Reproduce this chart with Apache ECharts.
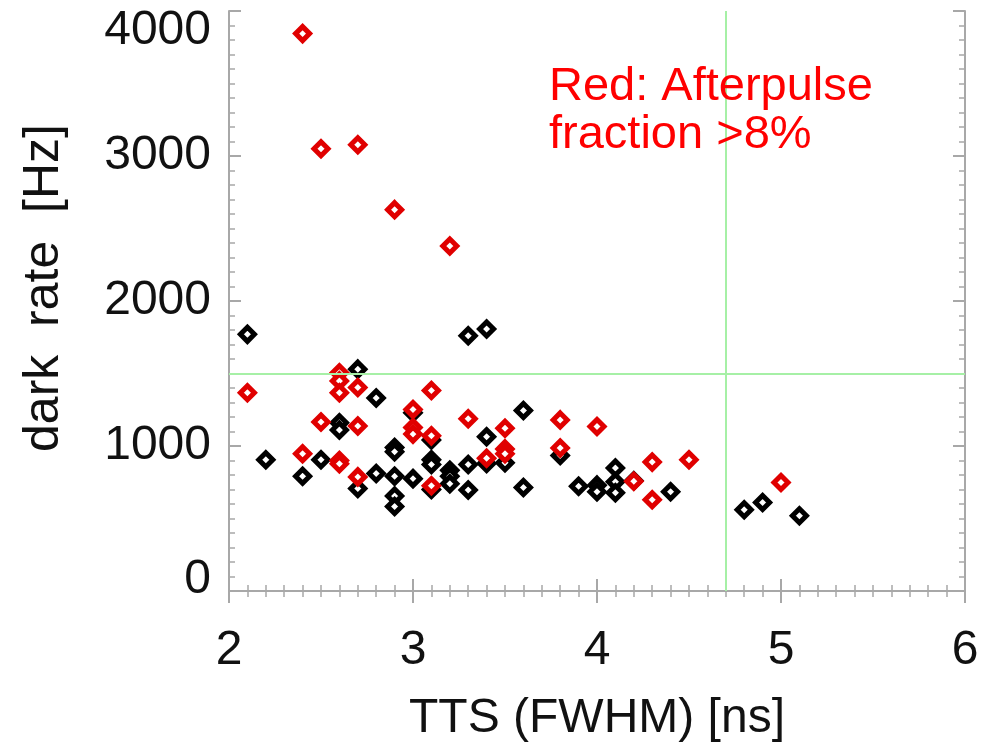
<!DOCTYPE html>
<html>
<head>
<meta charset="utf-8">
<script src="https://cdn.jsdelivr.net/npm/echarts@6/dist/echarts.min.js"></script>
<style>
  html, body { margin: 0; padding: 0; background: #fff; }
  #chart { width: 991px; height: 748px; }
</style>
</head>
<body>
<div id="chart"></div>
<script>
// TTS (FWHM) [ns] vs dark rate [Hz] for each PMT
const blackPoints = [
  [2.1, 1770], [2.2, 905], [2.4, 791], [2.5, 905], [2.6, 1160], [2.6, 1110],
  [2.7, 1530], [2.7, 707], [2.8, 1331], [2.8, 810], [2.9, 990], [2.9, 960],
  [2.9, 791], [2.9, 655], [2.9, 583], [3.0, 1230], [3.0, 775], [3.1, 905],
  [3.1, 873], [3.1, 1041], [3.1, 700], [3.2, 832], [3.2, 791], [3.2, 740],
  [3.3, 1760], [3.3, 873], [3.3, 696], [3.4, 1807], [3.4, 1064], [3.4, 880],
  [3.5, 884], [3.6, 1245], [3.6, 714], [3.8, 934], [3.9, 723], [4.0, 730],
  [4.0, 685], [4.1, 848], [4.1, 753], [4.1, 678], [4.2, 760], [4.4, 685],
  [4.8, 560], [4.9, 610], [5.1, 519]
];
// afterpulse fraction above 8%
const redPoints = [
  [2.1, 1367], [2.4, 3844], [2.4, 946], [2.5, 3050], [2.5, 1165], [2.6, 1505],
  [2.6, 1449], [2.6, 1367], [2.6, 900], [2.6, 878], [2.7, 3077], [2.7, 1403],
  [2.7, 1138], [2.7, 787], [2.9, 2630], [3.0, 1252], [3.0, 1127], [3.0, 1082],
  [3.1, 1383], [3.1, 1070], [3.1, 726], [3.2, 2379], [3.3, 1188], [3.4, 916],
  [3.5, 1122], [3.5, 980], [3.5, 946], [3.8, 1180], [3.8, 986], [4.0, 1134],
  [4.2, 757], [4.3, 889], [4.3, 629], [4.5, 905], [5.0, 748]
];
// threshold cuts
const darkRateCut = 1500;
const ttsCut = 4.7;

const xRange = [2, 6];
const yRange = [0, 4000];

const FONT = '"Liberation Sans", Arial, sans-serif';
const frameColor = '#a8a8a8';

const axisLineStyle = { show: true, lineStyle: { color: frameColor, width: 2 } };
const majorTick = { show: true, inside: true, length: 12, lineStyle: { color: frameColor, width: 2 } };
const minorTick = { show: true, splitNumber: 10, length: 6, lineStyle: { color: frameColor, width: 1.5 } };

const plain = v => String(v);

function diamondSeries(points, color, z) {
  return {
    type: 'scatter', xAxisIndex: 0, yAxisIndex: 0, z: z,
    symbol: 'diamond', symbolSize: 14,
    itemStyle: { color: '#fff', borderColor: color, borderWidth: 5, opacity: 1 },
    data: points
  };
}

const chart = echarts.init(document.getElementById('chart'), null, { renderer: 'canvas' });

chart.setOption({
  backgroundColor: '#fff',
  animation: false,
  grid: { left: 229, right: 26, top: 11, bottom: 149, containLabel: false },
  xAxis: [
    {
      type: 'value', min: xRange[0], max: xRange[1], interval: 1, position: 'bottom',
      name: 'TTS (FWHM) [ns]', nameLocation: 'middle', nameGap: 104,
      nameTextStyle: { fontFamily: FONT, fontSize: 48, color: '#111' },
      axisLine: axisLineStyle, axisTick: majorTick, minorTick: minorTick,
      splitLine: { show: false },
      axisLabel: { fontFamily: FONT, fontSize: 48, color: '#111', margin: 36, formatter: plain }
    },
    {
      type: 'value', min: xRange[0], max: xRange[1], interval: 1, position: 'top',
      axisLine: axisLineStyle, axisTick: majorTick, minorTick: minorTick,
      splitLine: { show: false }, axisLabel: { show: false }
    }
  ],
  yAxis: [
    {
      type: 'value', min: yRange[0], max: yRange[1], interval: 1000, position: 'left',
      name: 'dark  rate  [Hz]', nameLocation: 'middle', nameGap: 160,
      nameTextStyle: { fontFamily: FONT, fontSize: 50, color: '#111', padding: [0, 0, 0, 26] },
      axisLine: axisLineStyle, axisTick: majorTick, minorTick: minorTick,
      splitLine: { show: false },
      axisLabel: {
        fontFamily: FONT, fontSize: 48, lineHeight: 40, color: '#111', margin: 18,
        formatter: v => (v === yRange[0] ? '{lo|' + v + '}' : String(v)),
        rich: { lo: { fontFamily: FONT, fontSize: 48, lineHeight: 22, color: '#111' } },
        verticalAlignMinLabel: 'bottom', verticalAlignMaxLabel: 'top'
      }
    },
    {
      type: 'value', min: yRange[0], max: yRange[1], interval: 1000, position: 'right',
      axisLine: axisLineStyle, axisTick: majorTick, minorTick: minorTick,
      splitLine: { show: false }, axisLabel: { show: false }
    }
  ],
  series: [
    {
      type: 'scatter', xAxisIndex: 0, yAxisIndex: 0,
      data: [],
      silent: true, z: 1,
      markLine: {
        silent: true, symbol: 'none', label: { show: false },
        lineStyle: { color: '#a6f0a6', width: 2, type: 'solid' },
        data: [{ yAxis: darkRateCut }, { xAxis: ttsCut }]
      }
    },
    diamondSeries(blackPoints, '#000', 3),
    diamondSeries(redPoints, '#e00000', 4)
  ],
  graphic: [
    {
      type: 'text', left: 549, top: 63, z: 100,
      style: {
        text: 'Red: Afterpulse\nfraction >8%',
        font: '47px "Liberation Sans", Arial, sans-serif',
        lineHeight: 48,
        fill: '#ff0000'
      }
    }
  ]
});
</script>
</body>
</html>
